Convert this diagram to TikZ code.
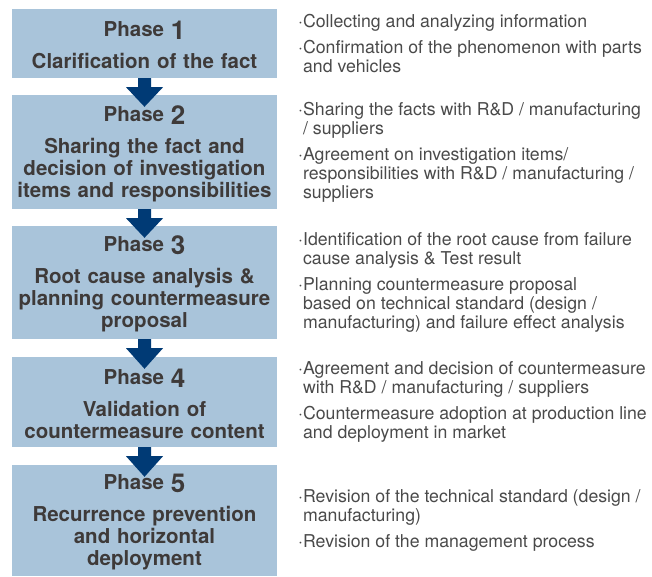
\documentclass[tikz,border=0pt]{standalone}
\usepackage{fontspec}
\setmainfont{TeX Gyre Heros}
\usetikzlibrary{positioning}
\definecolor{boxblue}{HTML}{A9C4DA}
\definecolor{navy}{HTML}{003A75}
\definecolor{inkgray}{HTML}{3E3A39}
\definecolor{notegray}{HTML}{4A4A4A}
\hyphenpenalty=10000
\newcommand{\phasenum}[1]{\rule{0pt}{19pt}\raisebox{-3pt}{\fontsize{26}{26}\selectfont #1}}

\begin{document}
\begin{tikzpicture}[x=1pt,y=-1pt,
        phase/.style={fill=boxblue,text=inkgray,minimum width=265pt,text width=265pt,align=center,inner sep=0pt,font=\fontsize{20.5}{22}\selectfont\bfseries},
        notes/.style={text=notegray,align=left,inner sep=0pt,font=\fontsize{17.7}{19}\selectfont}]
        \useasboundingbox (0,0) rectangle (652,576);
        % phase boxes
        \node[phase,minimum height=69pt] (p1) at (144.5,43.5) {Phase \phasenum{1}\\[10pt]Clarification of the fact};
        \node[phase,minimum height=114pt] (p2) at (144.5,152) {Phase \phasenum{2}\\[10pt]Sharing the fact and\\decision of investigation\\items and responsibilities};
        \node[phase,minimum height=113pt] (p3) at (144.5,282.5) {Phase \phasenum{3}\\[10pt]Root cause analysis \&\\planning countermeasure\\proposal};
        \node[phase,minimum height=90pt] (p4) at (144.5,402) {Phase \phasenum{4}\\[10pt]Validation of\\countermeasure content};
        \node[phase,minimum height=111pt] (p5) at (144.5,520.5) {Phase \phasenum{5}\\[10pt]Recurrence prevention\\and horizontal\\deployment};
        % block arrows between the phases
        \foreach \a/\b in {p1/p2,p2/p3,p3/p4,p4/p5}
          \fill[navy] ([xshift=-6.5pt]\a.south) -- ([xshift=-6.5pt,yshift=-9pt]\a.south) -- ([xshift=-18.5pt,yshift=-9pt]\a.south)
            -- ([yshift=-12pt]\b.north) -- ([xshift=18.5pt,yshift=-9pt]\a.south) -- ([xshift=6.5pt,yshift=-9pt]\a.south)
            -- ([xshift=6.5pt]\a.south) -- cycle;
        % notes on the right
        \node[notes,right=25.7pt of p1] (n1) {\llap{·}Collecting and analyzing information\\[7pt]\llap{·}Confirmation of the phenomenon with parts\\and vehicles};
        \node[notes,right=25.7pt of p2] (n2) {\llap{·}Sharing the facts with R\&D / manufacturing\\/ suppliers\\[7pt]\llap{·}Agreement on investigation items/\\responsibilities with R\&D / manufacturing /\\suppliers};
        \node[notes,right=25.7pt of p3] (n3) {\llap{·}Identification of the root cause from failure\\cause analysis \& Test result\\[7pt]\llap{·}Planning countermeasure proposal\\based on technical standard (design /\\manufacturing) and failure effect analysis};
        \node[notes,right=25.7pt of p4] (n4) {\llap{·}Agreement and decision of countermeasure\\with R\&D / manufacturing / suppliers\\[7pt]\llap{·}Countermeasure adoption at production line\\and deployment in market};
        \node[notes,right=25.7pt of p5] (n5) {\llap{·}Revision of the technical standard (design /\\manufacturing)\\[7pt]\llap{·}Revision of the management process};
\end{tikzpicture}
\end{document}
